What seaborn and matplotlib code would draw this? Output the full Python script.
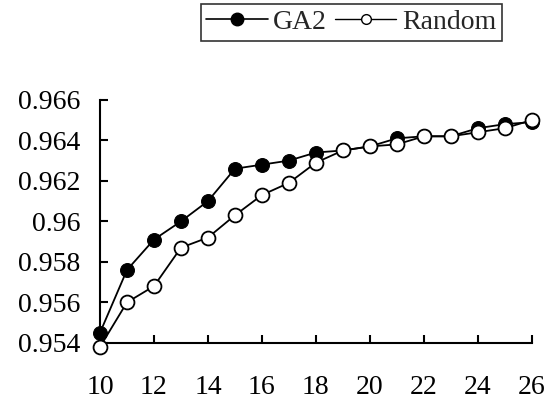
import numpy as np
import pandas as pd
import matplotlib
matplotlib.use('Agg')
import matplotlib.pyplot as plt
from matplotlib.ticker import FuncFormatter
from matplotlib.lines import Line2D
import seaborn as sns

# values
generations = [10, 11, 12, 13, 14, 15, 16, 17, 18, 19, 20, 21, 22, 23, 24, 25, 26]
ga2 = [0.9545, 0.9576, 0.9591, 0.9600, 0.9610, 0.9626, 0.9628, 0.9630, 0.9634,
       0.9635, 0.9637, 0.9641, 0.9642, 0.9642, 0.9646, 0.9648, 0.9649]
rnd = [0.9538, 0.9560, 0.9568, 0.9587, 0.9592, 0.9603, 0.9613, 0.9619, 0.9629,
       0.9635, 0.9637, 0.9638, 0.9642, 0.9642, 0.9644, 0.9646, 0.9650]
x_ticks = [10, 12, 14, 16, 18, 20, 22, 24, 26]
y_ticks = [0.954, 0.956, 0.958, 0.96, 0.962, 0.964, 0.966]

df = pd.DataFrame({'gen': generations * 2,
                   'val': ga2 + rnd,
                   'method': ['GA2'] * len(ga2) + ['Random'] * len(rnd)})

sns.set_style('ticks')
plt.rcParams['font.family'] = ['Liberation Serif', 'DejaVu Serif']

fig = plt.figure(figsize=(5.54, 4.01), dpi=100)
ax = fig.add_axes([0.1805, 0.145, 0.7795, 0.606])

sns.lineplot(data=df[df.method == 'GA2'], x='gen', y='val', ax=ax, color='black',
             lw=1.3, marker='o', markersize=10, markerfacecolor='black',
             markeredgecolor='black', clip_on=False, zorder=3)
sns.lineplot(data=df[df.method == 'Random'], x='gen', y='val', ax=ax, color='black',
             lw=1.3, marker='o', markersize=10, markerfacecolor='white',
             markeredgecolor='black', markeredgewidth=1.3, clip_on=False, zorder=4)

ax.set_xlim(10, 26)
ax.set_ylim(0.954, 0.966)
ax.set_xticks(x_ticks)
ax.set_yticks(y_ticks)
ax.yaxis.set_major_formatter(FuncFormatter(lambda v, p: '%g' % round(v, 3)))
ax.tick_params(direction='in', length=6, width=1.5, labelsize=20, colors='black')
ax.tick_params(axis='x', pad=23)
ax.tick_params(axis='y', pad=14)
for s in ['top', 'right']:
  ax.spines[s].set_visible(False)
for s in ['left', 'bottom']:
  ax.spines[s].set_linewidth(1.5)
  ax.spines[s].set_color('black')
ax.set_xlabel('')
ax.set_ylabel('')

handles = [Line2D([], [], color='black', lw=1.2, marker='o', markersize=9,
                  markerfacecolor='black', markeredgecolor='black'),
           Line2D([], [], color='black', lw=1.0, marker='o', markersize=7,
                  markerfacecolor='white', markeredgecolor='black')]
leg = fig.legend(handles, ['GA2', 'Random'], ncol=2, loc='upper left',
                 bbox_to_anchor=(0.355, 1.0), fontsize=20, frameon=True,
                 fancybox=False, edgecolor='black', handlelength=2.2,
                 handletextpad=0.2, columnspacing=0.3, borderpad=0.2,
                 borderaxespad=0.15)
leg.get_frame().set_linewidth(1.2)

fig.savefig('out.png', dpi=100)
